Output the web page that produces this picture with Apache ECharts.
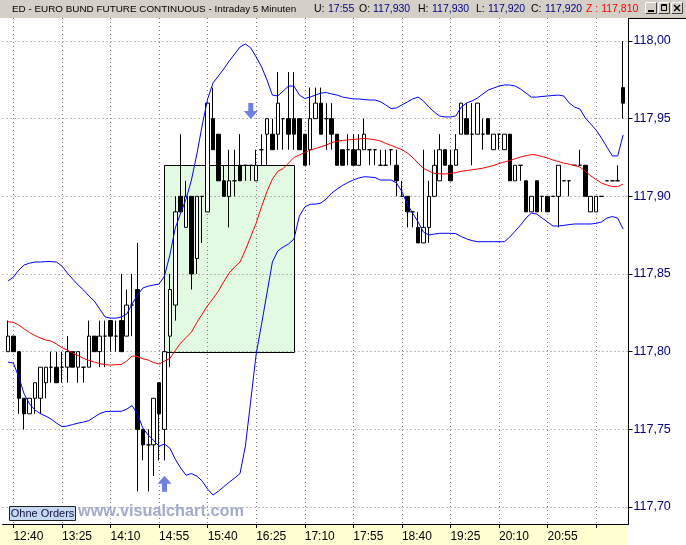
<!DOCTYPE html>
<html><head><meta charset="utf-8">
<script src="https://cdn.jsdelivr.net/npm/echarts@6/dist/echarts.min.js"></script>
<style>html,body{margin:0;padding:0;background:#fff}#c{width:686px;height:545px}</style>
</head><body><div id="c"></div>
<script>
// ---------- data ----------
const firstBar = '12:35';          // first 5-minute bar
const barCount = 115;
const labelTimes = ['12:40','13:25','14:10','14:55','15:40','16:25','17:10','17:55','18:40','19:25','20:10','20:55'];
const tickOnlyTimes = ['21:40'];
const yTicks = [117.70, 117.75, 117.80, 117.85, 117.90, 117.95, 118.00];

// [open, close, low, high]
const ohlc = [
[117.80,117.81,117.80,117.82],[117.81,117.80,117.80,117.81],[117.80,117.77,117.76,117.80],[117.77,117.76,117.75,117.77],
[117.76,117.77,117.76,117.77],[117.77,117.78,117.76,117.78],[117.77,117.79,117.76,117.79],[117.78,117.79,117.77,117.79],
[117.79,117.79,117.78,117.80],[117.79,117.78,117.78,117.80],[117.79,117.79,117.78,117.80],[117.79,117.80,117.78,117.81],
[117.80,117.79,117.79,117.80],[117.79,117.80,117.78,117.80],[117.79,117.79,117.78,117.79],[117.79,117.81,117.79,117.82],
[117.81,117.80,117.80,117.81],[117.80,117.81,117.79,117.82],[117.81,117.81,117.79,117.82],[117.82,117.81,117.80,117.82],
[117.81,117.81,117.80,117.82],[117.82,117.80,117.80,117.85],[117.81,117.83,117.81,117.84],[117.83,117.83,117.81,117.85],
[117.84,117.75,117.71,117.87],[117.75,117.74,117.73,117.75],[117.74,117.74,117.71,117.75],[117.74,117.77,117.72,117.77],
[117.78,117.76,117.73,117.78],[117.75,117.80,117.73,117.80],[117.81,117.84,117.79,117.85],[117.83,117.89,117.82,117.90],
[117.90,117.89,117.89,117.94],[117.88,117.90,117.88,117.91],[117.90,117.85,117.84,117.90],[117.86,117.90,117.85,117.90],
[117.90,117.90,117.87,117.90],[117.89,117.96,117.89,117.96],[117.95,117.93,117.93,117.97],[117.94,117.91,117.91,117.94],
[117.91,117.90,117.90,117.92],[117.90,117.91,117.88,117.93],[117.91,117.91,117.90,117.93],[117.92,117.91,117.91,117.94],
[117.92,117.92,117.91,117.92],[117.92,117.92,117.91,117.92],[117.91,117.92,117.91,117.93],[117.93,117.93,117.92,117.94],
[117.94,117.95,117.92,117.95],[117.94,117.93,117.93,117.95],[117.94,117.96,117.93,117.98],[117.95,117.95,117.93,117.95],
[117.95,117.94,117.93,117.98],[117.95,117.94,117.93,117.98],[117.95,117.93,117.93,117.95],[117.94,117.92,117.92,117.94],
[117.93,117.95,117.92,117.97],[117.95,117.96,117.95,117.97],[117.96,117.94,117.94,117.97],[117.95,117.95,117.93,117.96],
[117.95,117.94,117.93,117.96],[117.94,117.92,117.92,117.94],[117.93,117.92,117.92,117.93],[117.93,117.93,117.92,117.94],
[117.93,117.92,117.92,117.94],[117.92,117.93,117.92,117.94],[117.93,117.94,117.93,117.95],[117.93,117.93,117.92,117.93],
[117.93,117.93,117.92,117.93],[117.92,117.92,117.92,117.93],[117.92,117.92,117.92,117.93],[117.93,117.93,117.92,117.93],
[117.92,117.91,117.90,117.93],[117.90,117.90,117.90,117.91],[117.90,117.89,117.88,117.90],[117.89,117.89,117.88,117.89],
[117.88,117.87,117.87,117.89],[117.87,117.88,117.87,117.93],[117.88,117.90,117.87,117.91],[117.90,117.92,117.90,117.93],
[117.91,117.93,117.91,117.94],[117.93,117.92,117.92,117.93],[117.92,117.91,117.91,117.93],[117.92,117.93,117.92,117.94],
[117.94,117.96,117.94,117.96],[117.95,117.94,117.94,117.96],[117.94,117.94,117.92,117.96],[117.94,117.96,117.94,117.96],
[117.94,117.94,117.93,117.95],[117.95,117.94,117.94,117.95],[117.93,117.94,117.93,117.94],[117.94,117.94,117.93,117.94],
[117.93,117.94,117.93,117.94],[117.94,117.91,117.91,117.94],[117.91,117.92,117.91,117.92],[117.92,117.92,117.91,117.92],
[117.91,117.89,117.89,117.91],[117.89,117.90,117.89,117.90],[117.91,117.89,117.89,117.91],[117.90,117.90,117.89,117.90],
[117.90,117.89,117.89,117.90],[117.90,117.90,117.90,117.90],[117.90,117.92,117.88,117.92],[117.91,117.91,117.91,117.91],
[117.91,117.91,117.90,117.91],[117.92,117.92,117.92,117.92],[117.92,117.92,117.92,117.93],[117.92,117.90,117.90,117.92],
[117.89,117.90,117.89,117.90],[117.89,117.90,117.89,117.90],[117.90,117.90,117.90,117.90],[117.91,117.91,117.91,117.91],
[117.91,117.91,117.91,117.91],[117.91,117.91,117.91,117.92],[117.97,117.96,117.95,118.00]
];

const upperBand = [
117.8455,117.848,117.8525,117.8558,117.857,117.8577,117.8577,117.858,117.858,117.8577,
117.8551,117.8506,117.8467,117.8429,117.8397,117.8358,117.8326,117.8274,117.8223,117.8216,
117.8216,117.8223,117.8242,117.8307,117.8364,117.841,117.8422,117.8429,117.8435,117.8487,
117.8622,117.8796,117.8892,117.8983,117.9105,117.9272,117.9459,117.9627,117.973,117.9775,
117.982,117.9871,117.9916,117.9961,117.9981,117.9955,117.9897,117.9833,117.9749,117.9652,
117.9646,117.9678,117.971,117.971,117.9652,117.963,117.9639,117.9652,117.9665,117.9668,
117.9659,117.9652,117.9639,117.9633,117.9627,117.9627,117.9623,117.962,117.962,117.961,
117.9588,117.9565,117.9569,117.9588,117.9607,117.9627,117.9639,117.9614,117.9575,117.9543,
117.9517,117.9511,117.9511,117.9517,117.9575,117.9601,117.9614,117.9633,117.9659,117.9684,
117.9697,117.971,117.9717,117.9717,117.971,117.9691,117.9665,117.9639,117.9639,117.9643,
117.9646,117.9649,117.9652,117.9646,117.9601,117.9575,117.9562,117.9504,117.9466,117.9427,
117.9375,117.9317,117.926,117.926,117.9395
];
const lowerBand = [
117.7933,117.7927,117.7836,117.7727,117.7663,117.7624,117.7601,117.7585,117.7566,117.754,
117.7518,117.7521,117.7531,117.754,117.7547,117.7556,117.7579,117.7601,117.7614,117.7616,
117.7616,117.7616,117.763,117.7653,117.7598,117.7508,117.7463,117.7428,117.7392,117.7405,
117.7379,117.7308,117.7251,117.7205,117.7215,117.7199,117.7167,117.7115,117.7077,117.7102,
117.7131,117.716,117.7186,117.7215,117.7392,117.7688,117.7985,117.8178,117.8377,117.8577,
117.8648,117.8674,117.8693,117.8725,117.8873,117.8931,117.8949,117.895,117.8957,117.8983,
117.9021,117.9047,117.907,117.9089,117.9105,117.9118,117.9126,117.9124,117.9121,117.9105,
117.9105,117.9105,117.9086,117.9031,117.895,117.8892,117.8835,117.877,117.8751,117.8757,
117.8762,117.8762,117.8762,117.876,117.8741,117.8726,117.8715,117.8708,117.8708,117.8708,
117.8708,117.8708,117.8708,117.8738,117.8777,117.8815,117.886,117.8892,117.8886,117.886,
117.8835,117.8809,117.8809,117.8813,117.8818,117.8822,117.8822,117.8822,117.8822,117.8826,
117.8835,117.886,117.887,117.886,117.8789
];
const midLine = [
117.8193,117.8189,117.8171,117.8147,117.8123,117.8104,117.8088,117.8075,117.8068,117.8049,
117.8026,117.801,117.7991,117.7975,117.7957,117.7943,117.7933,117.7923,117.7916,117.7914,
117.7916,117.7918,117.794,117.7972,117.7969,117.7954,117.7946,117.793,117.792,117.794,
117.7956,117.8007,117.8055,117.8091,117.8126,117.8187,117.8242,117.8297,117.8342,117.839,
117.8451,117.8506,117.8545,117.8577,117.8654,117.8741,117.8828,117.8934,117.9031,117.9111,
117.916,117.9179,117.9214,117.925,117.9266,117.9282,117.9298,117.9308,117.9319,117.933,
117.9346,117.9355,117.936,117.9363,117.9366,117.9369,117.9373,117.9369,117.9364,117.9356,
117.9341,117.9328,117.9314,117.9301,117.9279,117.925,117.9214,117.918,117.9163,117.9147,
117.9145,117.9144,117.9147,117.9153,117.9161,117.9166,117.9171,117.9176,117.9181,117.919,
117.9198,117.9211,117.9221,117.923,117.9242,117.9253,117.9261,117.9269,117.9266,117.9256,
117.9247,117.9234,117.9224,117.9214,117.9207,117.9198,117.9189,117.916,117.9132,117.9108,
117.9086,117.9073,117.9063,117.9062,117.9079
];
// highlighted zone: [fromTime, toTime, low, high]
const zone = ['15:00', '17:00', 117.80, 117.92];
const upArrows = [['15:00', 117.715]];
const downArrows = [['16:20', 117.955]];

// ---------- build ----------
function addMin(t, m) {
  const [h, mm] = t.split(':').map(Number);
  const tot = h * 60 + mm + m;
  return String(Math.floor(tot / 60)).padStart(2, '0') + ':' + String(tot % 60).padStart(2, '0');
}
// one empty slot before the first bar and after the last
const times = [];
for (let k = -1; k <= barCount; k++) times.push(addMin(firstBar, 5 * k));
const barTimes = times.slice(1, barCount + 1);

const FONT = '"Liberation Sans", Arial, sans-serif';
const showLabel = (i, v) => labelTimes.indexOf(v) >= 0;
const showTick = (i, v) => labelTimes.indexOf(v) >= 0 || tickOnlyTimes.indexOf(v) >= 0;

const candleData = ohlc.map((r, k) => [barTimes[k], r[0], r[1], r[2], r[3]]);
const lineData = arr => arr.map((v, k) => [barTimes[k], v]);

const gridL = 2.6, gridR = 57.5;
const arrowPath = 'path://M7,0 L14,8 L9.5,8 L9.5,16 L4.5,16 L4.5,8 L0,8 Z';
const arrowColor = '#6f80e0';

const chart = echarts.init(document.getElementById('c'), null, {renderer: 'canvas'});

const titleParts = [
  {x: 12, t: 'ED - EURO BUND FUTURE CONTINUOUS - Intraday 5 Minuten', c: '#000', s: 9.9},
  {x: 314, t: 'U:', c: '#000'}, {x: 328, t: '17:55', c: '#000080'},
  {x: 359, t: 'O:', c: '#000'}, {x: 373, t: '117,930', c: '#000080'},
  {x: 418, t: 'H:', c: '#000'}, {x: 432, t: '117,930', c: '#000080'},
  {x: 476, t: 'L:', c: '#000'}, {x: 488, t: '117,920', c: '#000080'},
  {x: 531, t: 'C:', c: '#000'}, {x: 545, t: '117,920', c: '#000080'},
  {x: 586, t: 'Z : 117,810', c: '#ff0000'}
];

const graphics = [
  {type: 'rect', shape: {x: 0, y: 524, width: 628, height: 21}, style: {fill: '#ffffd2'}, z: -1, silent: true},
  {type: 'rect', shape: {x: 0, y: 0, width: 686, height: 18}, style: {fill: '#d4d0c8'}, z: 10, silent: true},
  {type: 'line', shape: {x1: 628, y1: 18.5, x2: 686, y2: 18.5}, style: {stroke: '#000', lineWidth: 1}, z: 10, silent: true}
];
titleParts.forEach(p => graphics.push({
  type: 'text', x: p.x, y: 9, z: 11, silent: true,
  style: {text: p.t, fill: p.c, font: (p.s || 10.5) + 'px ' + FONT, verticalAlign: 'middle', textAlign: 'left'}
}));
// window buttons
[645, 658, 671].forEach((bx, k) => {
  graphics.push({type: 'rect', shape: {x: bx + 0.5, y: 2.5, width: 11, height: 11},
    style: {fill: '#d4d0c8', stroke: '#404040', lineWidth: 1}, z: 11, silent: true});
  graphics.push({type: 'line', shape: {x1: bx + 0.5, y1: 2.5, x2: bx + 11.5, y2: 2.5}, style: {stroke: '#fff'}, z: 12, silent: true});
  graphics.push({type: 'line', shape: {x1: bx + 0.5, y1: 2.5, x2: bx + 0.5, y2: 13.5}, style: {stroke: '#fff'}, z: 12, silent: true});
  if (k === 0) graphics.push({type: 'rect', shape: {x: bx + 3, y: 10, width: 6, height: 2}, style: {fill: '#000'}, z: 12, silent: true});
  if (k === 1) graphics.push({type: 'rect', shape: {x: bx + 3.5, y: 4.5, width: 5, height: 6}, style: {fill: 'none', stroke: '#000', lineWidth: 1}, z: 12, silent: true},
                             {type: 'line', shape: {x1: bx + 3, y1: 5.5, x2: bx + 9, y2: 5.5}, style: {stroke: '#000', lineWidth: 1}, z: 12, silent: true});
  if (k === 2) graphics.push({type: 'line', shape: {x1: bx + 3, y1: 5, x2: bx + 9, y2: 11}, style: {stroke: '#000', lineWidth: 1.5}, z: 12, silent: true},
                             {type: 'line', shape: {x1: bx + 9, y1: 5, x2: bx + 3, y2: 11}, style: {stroke: '#000', lineWidth: 1.5}, z: 12, silent: true});
});
// "Ohne Orders" button and watermark
graphics.push(
  {type: 'rect', shape: {x: 9.5, y: 506.5, width: 66, height: 14}, style: {fill: '#c6d9f0', stroke: '#202020', lineWidth: 1}, z: 10, silent: true},
  {type: 'text', x: 42.5, y: 514, z: 11, silent: true, style: {text: 'Ohne Orders', fill: '#101040', font: '11px ' + FONT, textAlign: 'center', verticalAlign: 'middle'}},
  {type: 'text', x: 78, y: 511.5, z: 10, silent: true, style: {text: 'www.visualchart.com', fill: '#a3abcb', font: 'bold 16.3px ' + FONT, textAlign: 'left', verticalAlign: 'middle'}}
);

const option = {
  animation: false,
  backgroundColor: '#fff',
  grid: [
    {left: gridL, right: gridR, top: 41, bottom: 38},
    {left: gridL, right: gridR, top: 18, bottom: 21}
  ],
  xAxis: [
    {gridIndex: 0, type: 'category', data: times, boundaryGap: false, show: false},
    {gridIndex: 1, type: 'category', data: times, boundaryGap: false, z: 1,
      axisLine: {show: true, onZero: false, lineStyle: {color: '#000', width: 1}},
      axisTick: {show: true, interval: showTick, length: 4, lineStyle: {color: '#000'}},
      axisLabel: {interval: showLabel, align: 'left', margin: 7, color: '#000', fontSize: 12, fontFamily: FONT, padding: [0, 0, 0, 0]},
      splitLine: {show: true, interval: showTick, lineStyle: {color: '#808080', width: 1, type: [1, 3]}}
    }
  ],
  yAxis: [
    {gridIndex: 0, type: 'value', position: 'right', min: yTicks[0], max: yTicks[yTicks.length - 1], interval: 0.05, z: 1,
      axisLine: {show: true, lineStyle: {color: '#000'}},
      axisTick: {show: true, length: 4, lineStyle: {color: '#000'}},
      axisLabel: {color: '#000080', fontSize: 12.5, fontFamily: FONT, margin: 5,
        formatter: v => v.toFixed(2).replace('.', ',')},
      splitLine: {show: true, lineStyle: {color: '#808080', width: 1, type: [1, 3]}}
    },
    {gridIndex: 1, type: 'value', position: 'right', min: 0, max: 1, z: 1,
      axisLine: {show: true, onZero: false, lineStyle: {color: '#000'}},
      axisTick: {show: false}, axisLabel: {show: false}, splitLine: {show: false}
    }
  ],
  series: [
    {
      type: 'custom', xAxisIndex: 0, yAxisIndex: 0, z: 0, silent: true,
      data: [zone],
      encode: {x: [0, 1], y: [2, 3]},
      renderItem: (params, api) => {
        const p1 = api.coord([api.value(0), api.value(3)]);
        const p2 = api.coord([api.value(1), api.value(2)]);
        const x = Math.round(p1[0]) + 0.5, y = Math.round(p1[1]) + 0.5;
        const x2 = Math.round(p2[0]) + 0.5, y2 = Math.round(p2[1]) + 0.5;
        return {type: 'rect', shape: {x: x, y: y, width: x2 - x, height: y2 - y},
          style: {fill: '#e2f9e2', stroke: '#000', lineWidth: 1}};
      }
    },
    {
      type: 'candlestick', xAxisIndex: 0, yAxisIndex: 0, z: 2,
      data: candleData,
      encode: {x: 0, y: [1, 2, 3, 4]},
      barWidth: 4,
      itemStyle: {color: '#ffffff', color0: '#000000', borderColor: '#000000', borderColor0: '#000000', borderColorDoji: '#000000', borderWidth: 1}
    },
    {type: 'line', xAxisIndex: 0, yAxisIndex: 0, z: 3, data: lineData(upperBand), showSymbol: false, symbol: 'none',
      lineStyle: {color: '#0000ff', width: 1}},
    {type: 'line', xAxisIndex: 0, yAxisIndex: 0, z: 3, data: lineData(lowerBand), showSymbol: false, symbol: 'none',
      lineStyle: {color: '#0000ff', width: 1}},
    {type: 'line', xAxisIndex: 0, yAxisIndex: 0, z: 3, data: lineData(midLine), showSymbol: false, symbol: 'none',
      lineStyle: {color: '#ff0000', width: 1}},
    {type: 'scatter', xAxisIndex: 0, yAxisIndex: 0, z: 4, data: upArrows, symbol: arrowPath, symbolSize: [14, 16],
      itemStyle: {color: arrowColor, opacity: 1}},
    {type: 'scatter', xAxisIndex: 0, yAxisIndex: 0, z: 4, data: downArrows, symbol: arrowPath, symbolSize: [14, 16], symbolRotate: 180,
      itemStyle: {color: arrowColor, opacity: 1}}
  ],
  graphic: graphics
};
chart.setOption(option);
</script></body></html>
